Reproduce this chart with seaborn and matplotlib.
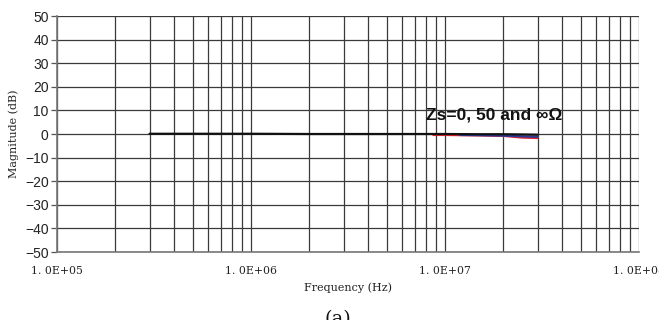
import matplotlib
matplotlib.use("Agg")
import matplotlib.pyplot as plt
import seaborn as sns
import numpy as np
import pandas as pd
from matplotlib.ticker import FixedLocator, NullFormatter

sns.set_theme(style="white")
plt.rcParams['font.family'] = ['DejaVu Sans']

# Data
freq_zs0 = [3.0e5, 3.5e5, 5e5, 7e5, 1.0e6, 2e6, 5e6, 1.0e7, 1.5e7, 2.0e7, 2.5e7, 3.0e7]
mag_zs0 = [0.1, 0.1, 0.1, 0.1, 0.1, 0.0, 0.0, 0.0, -0.1, -0.1, -0.2, -0.3]
freq_zs50 = [1.2e7, 1.5e7, 2.0e7, 2.5e7, 3.0e7]
mag_zs50 = [-0.4, -0.5, -0.7, -1.0, -1.2]
freq_zsinf = [8.7e6, 1.0e7, 1.5e7, 2.0e7, 2.5e7, 3.0e7]
mag_zsinf = [-0.4, -0.4, -0.6, -0.8, -1.5, -1.7]

series_names = ["Zs=inf", "Zs=50", "Zs=0"]
series_colors = ["#e0202a", "#2a3a9a", "#111111"]

df = pd.concat([
    pd.DataFrame({"Frequency": freq_zsinf, "Magnitude": mag_zsinf, "series": series_names[0]}),
    pd.DataFrame({"Frequency": freq_zs50, "Magnitude": mag_zs50, "series": series_names[1]}),
    pd.DataFrame({"Frequency": freq_zs0, "Magnitude": mag_zs0, "series": series_names[2]}),
])

x_major = [1e5, 1e6, 1e7, 1e8]
x_labels = ["1. 0E+05", "1. 0E+06", "1. 0E+07", "1. 0E+08"]
y_ticks = list(range(-50, 51, 10))
y_labels = ["\u2212" + str(-v) if v < 0 else str(v) for v in y_ticks]

fig = plt.figure(figsize=(6.59, 3.2), dpi=100)
ax = fig.add_axes([57 / 659, 1 - 252 / 320, (639 - 57) / 659, (252 - 16) / 320])

sns.lineplot(data=df, x="Frequency", y="Magnitude", hue="series",
             palette=dict(zip(series_names, series_colors)),
             hue_order=series_names, linewidth=1.6, legend=False, ax=ax,
             estimator=None, sort=True, zorder=3)

ax.set_xscale("log")
ax.set_xlim(1e5, 1e8)
ax.set_ylim(-50, 50)

minor = [m * 10 ** e for e in range(5, 8) for m in range(2, 10)]
ax.xaxis.set_major_locator(FixedLocator(x_major))
ax.xaxis.set_minor_locator(FixedLocator(minor))
ax.xaxis.set_minor_formatter(NullFormatter())
ax.set_xticks(x_major)
ax.set_xticklabels(x_labels, family="DejaVu Serif", fontsize=7.8, color="#222222")
ax.set_yticks(y_ticks)
ax.set_yticklabels(y_labels, family="Liberation Sans", fontsize=10, color="#222222")

ax.grid(True, which="both", axis="x", color="#3a3a3a", linewidth=0.9)
ax.grid(True, which="major", axis="y", color="#3a3a3a", linewidth=0.9)
ax.set_axisbelow(True)

ax.tick_params(axis="y", which="major", left=True, length=4, width=0.9, color="#555555", pad=2)
ax.tick_params(axis="x", which="both", bottom=False, length=0, pad=10)

for side in ["top", "right"]:
    ax.spines[side].set_visible(False)
for side in ["left", "bottom"]:
    ax.spines[side].set_color("#777777")
    ax.spines[side].set_linewidth(1.2)

ax.set_xlabel("Frequency (Hz)", family="DejaVu Serif", fontsize=8, color="#222222", labelpad=5)
ax.set_ylabel("Magnitude (dB)", family="DejaVu Serif", fontsize=8, color="#222222", labelpad=4)

ax.text(8.0e6, 8, "Zs=0, 50 and \u221e\u03a9", family="Liberation Sans",
        fontweight="bold", fontsize=12.5, color="#111111", ha="left", va="center", zorder=5)

fig.text(338 / 659, 1 - 310 / 320, "(a)", family="DejaVu Serif", fontsize=14,
         ha="center", va="top", color="#111111")

fig.savefig("out.png", dpi=100, facecolor="white")
